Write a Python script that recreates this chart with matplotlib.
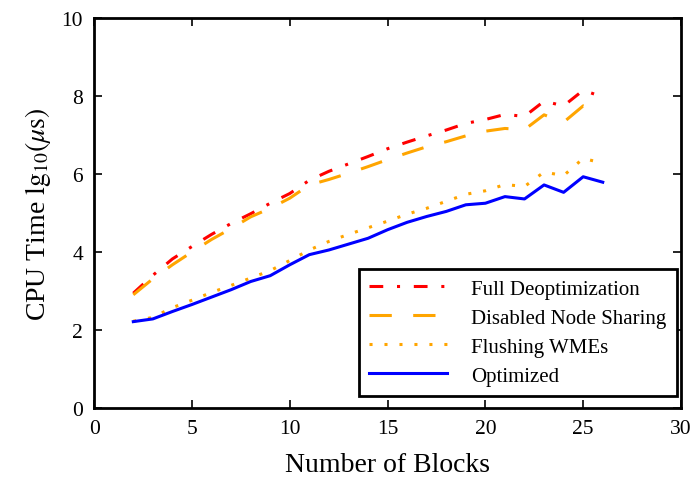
import matplotlib
matplotlib.use("Agg")
import matplotlib.pyplot as plt

plt.rcParams["font.family"] = ["Liberation Serif", "DejaVu Serif"]
plt.rcParams["mathtext.fontset"] = "stix"

blocks = list(range(2, 27))
full_deopt = [2.94, 3.40, 3.82, 4.14, 4.45, 4.73, 4.98, 5.25, 5.50, 5.84, 6.07, 6.26,
              6.45, 6.65, 6.82, 6.98, 7.13, 7.30, 7.40, 7.53, 7.48, 7.87, 7.75, 8.15, 7.98]
no_sharing = [2.90, 3.31, 3.67, 4.00, 4.32, 4.60, 4.90, 5.12, 5.38, 5.72, 5.86, 6.02,
              6.19, 6.37, 6.54, 6.70, 6.83, 6.98, 7.10, 7.17, 7.14, 7.52, 7.33, 7.75, 7.57]
flushing = [2.22, 2.32, 2.57, 2.76, 2.96, 3.14, 3.33, 3.52, 3.78, 4.05, 4.27, 4.45,
            4.62, 4.79, 4.97, 5.12, 5.30, 5.48, 5.57, 5.73, 5.68, 6.05, 5.96, 6.40, 6.28]
optimized = [2.21, 2.28, 2.47, 2.65, 2.84, 3.03, 3.24, 3.39, 3.67, 3.93, 4.05, 4.20,
             4.35, 4.57, 4.76, 4.91, 5.04, 5.21, 5.25, 5.42, 5.36, 5.72, 5.53, 5.93, 5.79]

fig = plt.figure(figsize=(6.91, 4.81), dpi=100)
ax = fig.add_axes([0.1363, 0.1503, 0.8492, 0.8097])

lw = 2.2
ax.plot(blocks, full_deopt, color="#ff0000", lw=lw, dashes=(4.5, 4.5, 1, 4.5),
        label="Full Deoptimization")
ax.plot(blocks, no_sharing, color="#ffa500", lw=lw, dashes=(7.3, 7),
        label="Disabled Node Sharing")
ax.plot(blocks, flushing, color="#ffa500", lw=lw, dashes=(1, 3.9),
        label="Flushing WMEs")
ax.plot(blocks, optimized, color="#0000ff", lw=lw, label="Optimized")

ax.set_xlim(0, 30)
ax.set_ylim(0, 10)
ax.set_xticks(range(0, 31, 5))
ax.set_yticks(range(0, 11, 2))
ax.tick_params(direction="in", length=6, width=1.2, top=True, right=True,
               labelsize=15.5, pad=8)
for s in ax.spines.values():
    s.set_linewidth(2)

ax.set_xlabel("Number of Blocks", fontsize=20, labelpad=10)
ax.set_ylabel(r"CPU Time $\mathrm{lg}_{10}(\mu\mathrm{s})$", fontsize=20, labelpad=6)

leg = ax.legend(loc="lower right", bbox_to_anchor=(0.993, 0.030), borderaxespad=0,
                fontsize=15, handlelength=3.75, fancybox=False, framealpha=1,
                edgecolor="black", labelspacing=0.45, handletextpad=1.15,
                borderpad=0.5)
leg.get_frame().set_linewidth(2)

fig.savefig("out.png", dpi=100)
